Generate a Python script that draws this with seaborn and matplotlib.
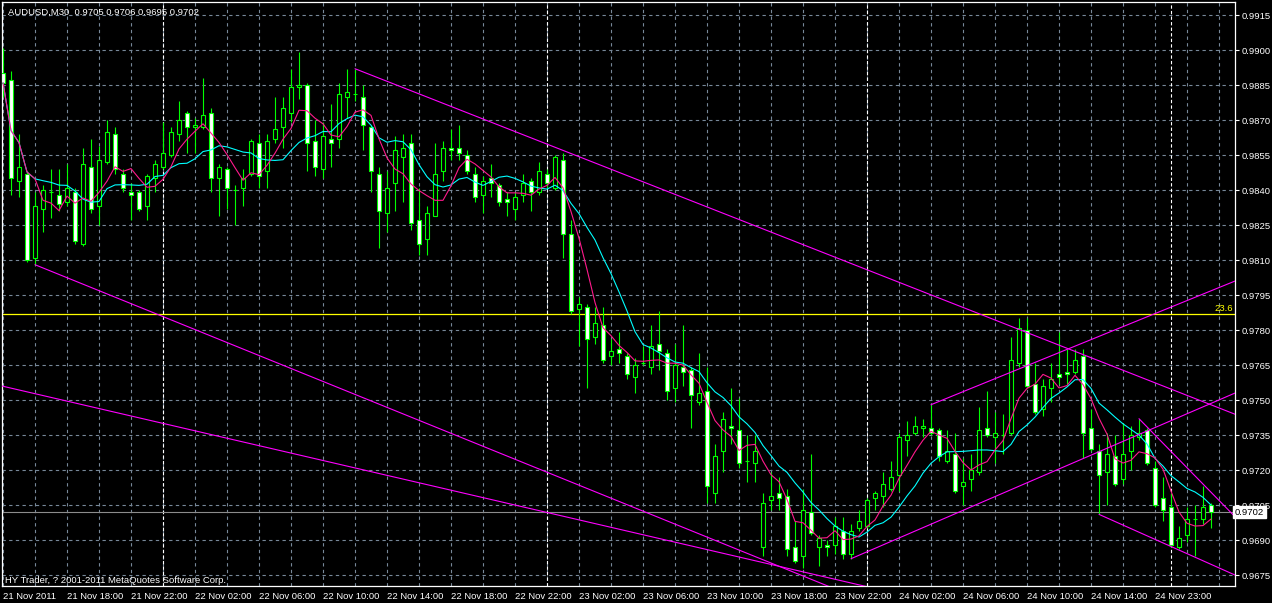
import numpy as np
import pandas as pd
import matplotlib
matplotlib.use("Agg")
import matplotlib.pyplot as plt
import matplotlib.transforms as mtrans
import seaborn as sns

#%% Data (AUDUSD M30)
symbol = "AUDUSD,M30"
last_ohlc = [0.9705, 0.9706, 0.9695, 0.9702]

opens = [
    0.9890, 0.9887, 0.9844, 0.9847, 0.9811, 0.9832, 0.9839, 0.9838, 0.9835, 0.9839,
    0.9817, 0.9850, 0.9833, 0.9852, 0.9864, 0.9847, 0.9839, 0.9839, 0.9833, 0.9845,
    0.9850, 0.9855, 0.9864, 0.9873, 0.9867, 0.9867, 0.9873, 0.9845, 0.9849, 0.9840,
    0.9841, 0.9847, 0.9860, 0.9848, 0.9862, 0.9867, 0.9873, 0.9884, 0.9885, 0.9861,
    0.9849, 0.9862, 0.9862, 0.9880, 0.9881, 0.9880, 0.9867, 0.9847, 0.9830, 0.9843,
    0.9854, 0.9860, 0.9827, 0.9819, 0.9829, 0.9848, 0.9858, 0.9858, 0.9855, 0.9847,
    0.9838, 0.9845, 0.9842, 0.9836, 0.9832, 0.9838, 0.9844, 0.9839, 0.9847, 0.9841,
    0.9853, 0.9821, 0.9789, 0.9790, 0.9777, 0.9782, 0.9769, 0.9772, 0.9769, 0.9760,
    0.9766, 0.9764, 0.9774, 0.9770, 0.9755, 0.9764, 0.9763, 0.9749, 0.9754, 0.9710,
    0.9728, 0.9739, 0.9737, 0.9724, 0.9723, 0.9687, 0.9707, 0.9710, 0.9709, 0.9687,
    0.9683, 0.9702, 0.9687, 0.9688, 0.9688, 0.9694, 0.9684, 0.9695, 0.9696, 0.9708,
    0.9709, 0.9712, 0.9718, 0.9733, 0.9736, 0.9738, 0.9738, 0.9737, 0.9724, 0.9727,
    0.9713, 0.9716, 0.9719, 0.9738, 0.9734, 0.9735, 0.9736, 0.9766, 0.9780, 0.9757,
    0.9746, 0.9755, 0.9761, 0.9762, 0.9762, 0.9769, 0.9738, 0.9728, 0.9719, 0.9726,
    0.9716, 0.9728, 0.9734, 0.9737, 0.9721, 0.9708, 0.9704, 0.9687, 0.9692, 0.9699,
    0.9699, 0.9705,
]
highs = [
    0.9901, 0.9891, 0.9864, 0.9848, 0.9839, 0.9842, 0.9849, 0.9849, 0.9851, 0.9841,
    0.9858, 0.9862, 0.9859, 0.9870, 0.9867, 0.9849, 0.9843, 0.9840, 0.9847, 0.9853,
    0.9869, 0.9867, 0.9878, 0.9874, 0.9871, 0.9888, 0.9875, 0.9851, 0.9850, 0.9842,
    0.9849, 0.9862, 0.9864, 0.9864, 0.9880, 0.9880, 0.9892, 0.9899, 0.9886, 0.9870,
    0.9869, 0.9877, 0.9886, 0.9892, 0.9892, 0.9885, 0.9868, 0.9850, 0.9848, 0.9863,
    0.9864, 0.9864, 0.9841, 0.9833, 0.9860, 0.9861, 0.9866, 0.9868, 0.9857, 0.9850,
    0.9846, 0.9851, 0.9843, 0.9839, 0.9839, 0.9847, 0.9845, 0.9852, 0.9849, 0.9855,
    0.9856, 0.9827, 0.9794, 0.9791, 0.9790, 0.9790, 0.9776, 0.9779, 0.9770, 0.9768,
    0.9773, 0.9782, 0.9788, 0.9772, 0.9774, 0.9782, 0.9764, 0.9770, 0.9764, 0.9731,
    0.9745, 0.9755, 0.9751, 0.9735, 0.9735, 0.9710, 0.9719, 0.9717, 0.9712, 0.9698,
    0.9712, 0.9727, 0.9692, 0.9690, 0.9700, 0.9700, 0.9697, 0.9703, 0.9708, 0.9711,
    0.9719, 0.9724, 0.9736, 0.9741, 0.9743, 0.9742, 0.9748, 0.9738, 0.9737, 0.9736,
    0.9725, 0.9727, 0.9747, 0.9754, 0.9745, 0.9744, 0.9777, 0.9785, 0.9785, 0.9766,
    0.9759, 0.9766, 0.9779, 0.9772, 0.9772, 0.9772, 0.9746, 0.9731, 0.9736, 0.9735,
    0.9740, 0.9739, 0.9742, 0.9738, 0.9724, 0.9717, 0.9710, 0.9696, 0.9704, 0.9705,
    0.9713, 0.9706,
]
lows = [
    0.9880, 0.9838, 0.9837, 0.9809, 0.9808, 0.9822, 0.9828, 0.9831, 0.9833, 0.9817,
    0.9816, 0.9830, 0.9825, 0.9851, 0.9847, 0.9839, 0.9827, 0.9831, 0.9827, 0.9839,
    0.9849, 0.9854, 0.9861, 0.9856, 0.9856, 0.9866, 0.9839, 0.9829, 0.9832, 0.9825,
    0.9833, 0.9846, 0.9841, 0.9841, 0.9860, 0.9858, 0.9869, 0.9879, 0.9848, 0.9846,
    0.9845, 0.9850, 0.9858, 0.9871, 0.9878, 0.9857, 0.9839, 0.9815, 0.9822, 0.9831,
    0.9835, 0.9823, 0.9812, 0.9812, 0.9829, 0.9844, 0.9853, 0.9853, 0.9847, 0.9835,
    0.9830, 0.9837, 0.9833, 0.9829, 0.9827, 0.9835, 0.9831, 0.9838, 0.9841, 0.9840,
    0.9811, 0.9787, 0.9773, 0.9755, 0.9774, 0.9766, 0.9765, 0.9766, 0.9759, 0.9753,
    0.9765, 0.9761, 0.9763, 0.9750, 0.9749, 0.9756, 0.9738, 0.9748, 0.9706, 0.9706,
    0.9719, 0.9731, 0.9721, 0.9715, 0.9715, 0.9683, 0.9703, 0.9703, 0.9683, 0.9680,
    0.9678, 0.9692, 0.9679, 0.9683, 0.9684, 0.9682, 0.9682, 0.9694, 0.9695, 0.9703,
    0.9704, 0.9711, 0.9711, 0.9726, 0.9735, 0.9734, 0.9735, 0.9724, 0.9723, 0.9710,
    0.9705, 0.9711, 0.9718, 0.9734, 0.9723, 0.9727, 0.9735, 0.9764, 0.9755, 0.9744,
    0.9743, 0.9749, 0.9757, 0.9757, 0.9761, 0.9725, 0.9728, 0.9701, 0.9705, 0.9713,
    0.9714, 0.9720, 0.9733, 0.9722, 0.9704, 0.9698, 0.9687, 0.9686, 0.9689, 0.9683,
    0.9697, 0.9695,
]
closes = [
    0.9886, 0.9845, 0.9850, 0.9810, 0.9833, 0.9840, 0.9839, 0.9834, 0.9841, 0.9818,
    0.9851, 0.9832, 0.9853, 0.9865, 0.9849, 0.9841, 0.9838, 0.9832, 0.9846, 0.9851,
    0.9856, 0.9865, 0.9870, 0.9867, 0.9868, 0.9872, 0.9845, 0.9850, 0.9841, 0.9840,
    0.9845, 0.9861, 0.9846, 0.9861, 0.9866, 0.9875, 0.9884, 0.9885, 0.9860, 0.9850,
    0.9863, 0.9860, 0.9881, 0.9882, 0.9881, 0.9868, 0.9848, 0.9831, 0.9841, 0.9857,
    0.9858, 0.9826, 0.9817, 0.9830, 0.9847, 0.9858, 0.9857, 0.9856, 0.9848, 0.9837,
    0.9844, 0.9843, 0.9835, 0.9835, 0.9837, 0.9843, 0.9839, 0.9848, 0.9843, 0.9854,
    0.9821, 0.9788, 0.9791, 0.9776, 0.9783, 0.9767, 0.9771, 0.9770, 0.9761, 0.9765,
    0.9766, 0.9773, 0.9771, 0.9754, 0.9765, 0.9762, 0.9752, 0.9753, 0.9713, 0.9726,
    0.9742, 0.9738, 0.9723, 0.9724, 0.9728, 0.9706, 0.9709, 0.9708, 0.9686, 0.9681,
    0.9703, 0.9693, 0.9691, 0.9687, 0.9696, 0.9684, 0.9694, 0.9698, 0.9707, 0.9710,
    0.9714, 0.9717, 0.9734, 0.9735, 0.9739, 0.9739, 0.9736, 0.9726, 0.9728, 0.9711,
    0.9715, 0.9720, 0.9737, 0.9735, 0.9736, 0.9735, 0.9767, 0.9781, 0.9756, 0.9745,
    0.9756, 0.9759, 0.9760, 0.9761, 0.9767, 0.9736, 0.9729, 0.9718, 0.9727, 0.9714,
    0.9727, 0.9735, 0.9736, 0.9723, 0.9705, 0.9703, 0.9688, 0.9691, 0.9699, 0.9699,
    0.9704, 0.9702,
]

# time labels, one every 8 bars
time_labels = ["21 Nov 2011", "21 Nov 18:00", "21 Nov 22:00", "22 Nov 02:00", "22 Nov 06:00",
               "22 Nov 10:00", "22 Nov 14:00", "22 Nov 18:00", "22 Nov 22:00", "23 Nov 02:00",
               "23 Nov 06:00", "23 Nov 10:00", "23 Nov 18:00", "23 Nov 22:00", "24 Nov 02:00",
               "24 Nov 06:00", "24 Nov 10:00", "24 Nov 14:00", "24 Nov 23:00"]
day_separators = [20, 68, 108, 146]

# trendlines: two anchor points (bar, price), drawn as rays to the right
trendlines = [
    ((44, 0.9892), (70, 0.9857)),
    ((4, 0.9808), (84.6, 0.9696)),
    ((-1, 0.97567), (108, 0.9670)),
    ((106, 0.9682), (154, 0.9753)),
    ((116, 0.9748), (154, 0.9801)),
    ((137, 0.9701), (154, 0.9675)),
    ((142, 0.9742), (154, 0.9700)),
]
fibo_level = 0.97868
fibo_label = "23.6"
bid = 0.9702
copyright_txt = "HY Trader, ? 2001-2011 MetaQuotes Software Corp."

#%% Style
sns.set_style("dark", {"axes.facecolor": "black", "figure.facecolor": "black",
                       "axes.edgecolor": "white", "text.color": "white"})
plt.rcParams['font.family'] = ['Liberation Sans', 'DejaVu Sans']
fs = 6.8
grid_col = "#778899"
lime = "#00ff00"

df = pd.DataFrame({"bar": np.arange(len(closes)), "open": opens, "high": highs,
                   "low": lows, "close": closes})
df["ma_fast"] = df["close"].rolling(5, min_periods=1).mean()
df["ma_slow"] = df["close"].rolling(10, min_periods=1).mean()

W, H = 1272, 603
fig = plt.figure(figsize=(W / 100, H / 100), dpi=100)
ax = fig.add_axes([2 / W, 17 / H, 1233 / W, 584 / H])
ax.set_facecolor("black")
ax.set_axisbelow(True)

#%% Candles
up = df["close"] >= df["open"]
ax.vlines(df["bar"], df["low"], df["high"], color=lime, lw=0.8, zorder=3)
ax.bar(df["bar"], (df["close"] - df["open"]).abs(), bottom=np.minimum(df["open"], df["close"]),
       width=0.5, color=np.where(up, "black", "white"), edgecolor=lime, linewidth=0.8, zorder=4)

#%% Moving averages
sns.lineplot(data=df, x="bar", y="ma_slow", color="#00ffff", lw=0.8, ax=ax, zorder=5)
sns.lineplot(data=df, x="bar", y="ma_fast", color="#ff1a8c", lw=0.8, ax=ax, zorder=5)

#%% Objects
x_right = 154.0
for (x0, p0), (x1, p1) in trendlines:
    k = (p1 - p0) / (x1 - x0)
    ax.plot([x0, x_right], [p0, p0 + k * (x_right - x0)], color="#ff00ff", lw=0.8, zorder=6)

ax.axhline(bid, color="#8c8c8c", lw=0.8, zorder=2)
ax.axhline(fibo_level, color="#ffff00", lw=0.9, zorder=2)
blend = mtrans.blended_transform_factory(ax.transAxes, ax.transData)
ax.text(0.998, fibo_level + 0.00004, fibo_label, transform=blend, ha="right", va="bottom",
        color="#ffff00", fontsize=fs, zorder=7)

for b in day_separators:
    ax.axvline(b, color="white", lw=0.8, ls=(0, (3, 2)), zorder=1.5)

#%% Axes, ticks, grid
ax.set_xlim(-0.125, 154.0)
ax.set_ylim(0.96703, 0.99206)
yt = np.round(0.9675 + 0.0015 * np.arange(17), 4)
ax.set_yticks(yt)
ax.set_yticklabels([f"{v:.4f}" for v in yt])
ax.yaxis.tick_right()
ax.set_xticks(np.arange(0, 8 * len(time_labels), 8))
ax.set_xticklabels(time_labels, ha="left")
ax.set_xticks(np.arange(0, 154, 4), minor=True)
ax.tick_params(axis="y", colors="white", length=3, width=0.8, labelsize=fs, pad=2)
ax.tick_params(axis="x", colors="white", length=3, width=0.8, labelsize=fs, pad=1.5)
ax.tick_params(axis="x", which="minor", length=0)
ax.grid(True, which="major", axis="y", color=grid_col, lw=0.8, ls=(0, (3, 3)))
ax.grid(True, which="both", axis="x", color=grid_col, lw=0.8, ls=(0, (3, 3)))
ax.set_xlabel("")
ax.set_ylabel("")
for s in ax.spines.values():
    s.set_color("white")
    s.set_linewidth(0.9)
    s.set_visible(True)

ax.text(1.0, bid, f"{bid:.4f}", transform=blend, ha="left", va="center", color="black",
        fontsize=fs, zorder=10, clip_on=False,
        bbox=dict(boxstyle="square,pad=0.18", fc="white", ec="white"))

fig.text(8 / W, 1 - 14.5 / H, symbol + "  " + " ".join(f"{v:.4f}" for v in last_ohlc),
         color="white", fontsize=fs, va="baseline")
fig.text(5 / W, 1 - 583 / H, copyright_txt, color="white", fontsize=fs, va="baseline")

fig.savefig("out.png", dpi=100, facecolor="black")
